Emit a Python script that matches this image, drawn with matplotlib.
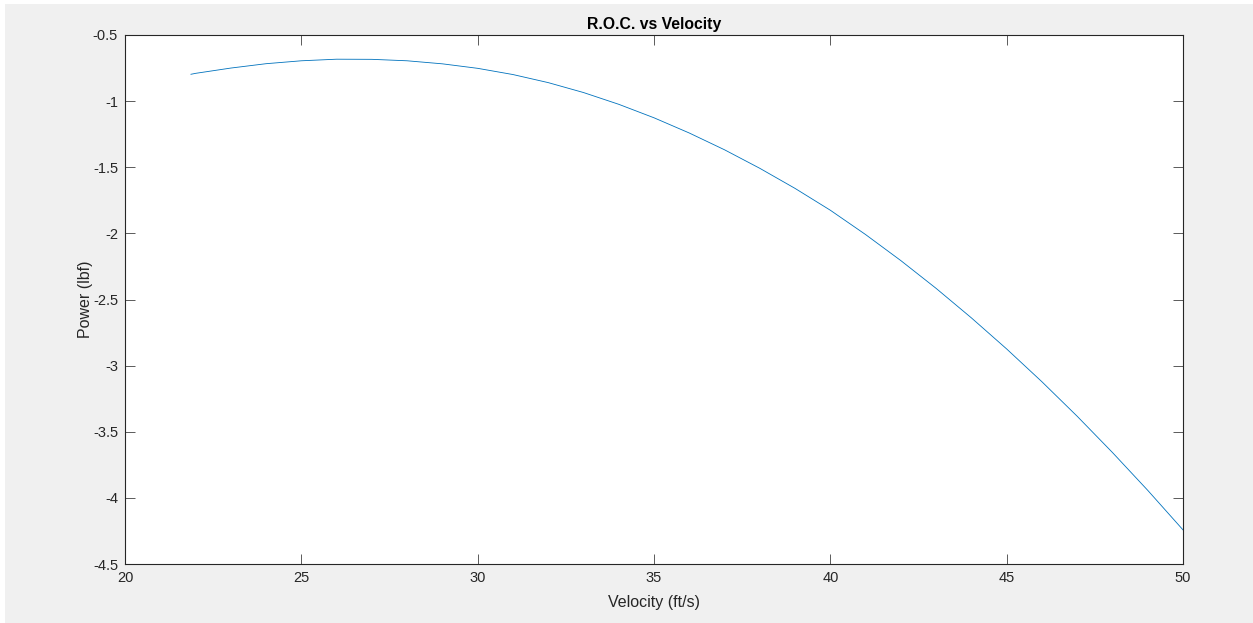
import matplotlib
matplotlib.use("Agg")
import matplotlib.pyplot as plt
from matplotlib.patches import Rectangle

# Data
velocity = [21.87, 22, 23, 24, 25, 26, 27, 28, 29, 30, 31, 32, 33, 34, 35,
            36, 37, 38, 39, 40, 41, 42, 43, 44, 45, 46, 47, 48, 49, 50]
roc = [-0.797, -0.790, -0.750, -0.717, -0.695, -0.683, -0.684, -0.695, -0.718,
       -0.752, -0.799, -0.860, -0.935, -1.024, -1.126, -1.241, -1.368, -1.508,
       -1.660, -1.825, -2.009, -2.206, -2.416, -2.639, -2.874, -3.122, -3.383,
       -3.657, -3.943, -4.242]

xticks = [20, 25, 30, 35, 40, 45, 50]
yticks = [-4.5, -4, -3.5, -3, -2.5, -2, -1.5, -1, -0.5]
ytick_labels = ["-4.5", "-4", "-3.5", "-3", "-2.5", "-2", "-1.5", "-1", "-0.5"]

plt.rcParams['font.family'] = ['Liberation Sans', 'DejaVu Sans']

W, H = 1253, 623
fig = plt.figure(figsize=(W / 100, H / 100), dpi=100)
fig.patch.set_facecolor('white')
fig.patches.append(Rectangle((5 / W, 0), 1, (H - 4) / H, transform=fig.transFigure,
                             facecolor='#f0f0f0', edgecolor='none', zorder=-10))

ax = fig.add_axes([125 / W, (H - 564) / H, (1183 - 125) / W, (564 - 35) / H])
ax.set_facecolor('white')
ax.plot(velocity, roc, color='#0072BD', linewidth=0.6)

ax.set_xlim(20, 50)
ax.set_ylim(-4.5, -0.5)
ax.set_xticks(xticks)
ax.set_xticklabels([str(t) for t in xticks])
ax.set_yticks(yticks)
ax.set_yticklabels(ytick_labels)

edge = '#262626'
for s in ax.spines.values():
    s.set_color(edge)
    s.set_linewidth(0.8)
ax.tick_params(direction='in', length=7, width=0.6, color='#404040',
               labelcolor=edge, labelsize=10.5, top=True, right=True, pad=5)

ax.set_title('R.O.C. vs Velocity', fontsize=11.3, fontweight='bold', color='black', pad=4)
ax.set_xlabel('Velocity (ft/s)', fontsize=11.5, color=edge, labelpad=7)
ax.set_ylabel('Power (lbf)', fontsize=11.5, color=edge, labelpad=0)

fig.savefig('out.png', dpi=100, facecolor=fig.get_facecolor())
